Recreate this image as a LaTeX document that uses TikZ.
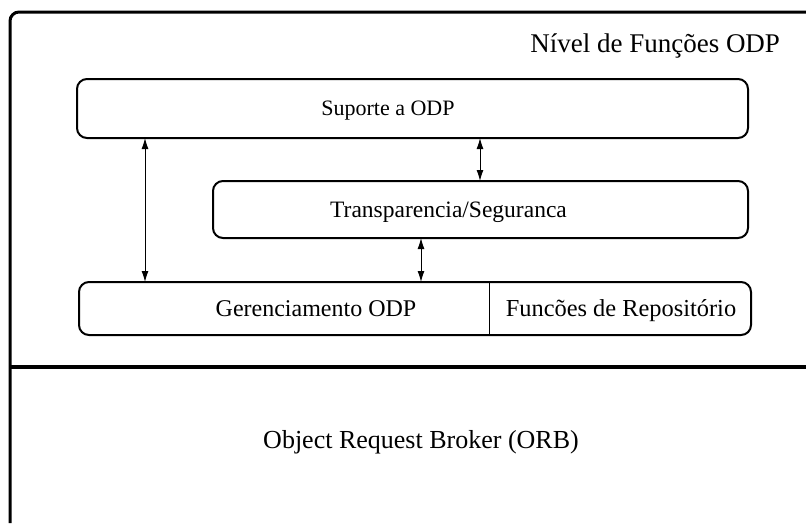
\documentclass[tikz,border=0pt]{standalone}
\usepackage{fontspec}
\setmainfont{Liberation Serif}
\usetikzlibrary{arrows.meta}
\begin{document}
\begin{tikzpicture}[x=1pt,y=-1pt,
  box/.style={draw, line width=2pt, rounded corners=10pt, inner sep=0pt, outer sep=0pt},
  frameline/.style={line width=3pt},
  lbl/.style={inner sep=0pt, outer sep=0pt, anchor=base},
  arr/.style={{Latex[length=11pt,width=7pt]}-{Latex[length=11pt,width=7pt]}, line width=1pt},
  divider/.style={line width=0.8pt}
]
\useasboundingbox (0,0) rectangle (806,523);
% outer frame
\coordinate (ftr) at (806,12);
\coordinate (ftl) at (10,12);
\coordinate (fbl) at (10,523);
\coordinate (sepl) at (10,367);
\coordinate (sepr) at (806,367);
\draw[frameline, rounded corners=9pt] (ftr) -- (ftl) -- (fbl);
\draw[line width=3.5pt] (sepl) -- (sepr);
% title
\node[lbl, anchor=base east, font=\fontsize{27pt}{30pt}\selectfont] (title) at (780,52) {Nível de Funções ODP};
% boxes
\node[box, minimum width=671pt, minimum height=59pt] (sup) at (412.5,108.5) {};
\node[box, minimum width=535pt, minimum height=57pt] (tra) at (480.5,209.5) {};
\node[box, minimum width=672pt, minimum height=53pt] (ger) at (415,308.5) {};
\coordinate (dv) at (489,0);
\draw[divider] (ger.north -| dv) -- (ger.south -| dv);
% labels
\node[lbl, font=\fontsize{22pt}{26pt}\selectfont] (tsup) at (388,115) {Suporte a ODP};
\node[lbl, font=\fontsize{23.5pt}{27pt}\selectfont] (ttra) at (448.5,217) {Transparencia/Seguranca};
\node[lbl, font=\fontsize{24pt}{27pt}\selectfont] (tger) at (316,316) {Gerenciamento ODP};
\node[lbl, font=\fontsize{24.4pt}{27pt}\selectfont] (trep) at (621,316) {Funcões de Repositório};
\node[lbl, font=\fontsize{26pt}{29pt}\selectfont] (torb) at (421,448) {Object Request Broker (ORB)};
% arrows
\coordinate (a1) at (145,0);
\coordinate (a2) at (480,0);
\coordinate (a3) at (421,0);
\draw[arr] (sup.south -| a1) -- (ger.north -| a1);
\draw[arr] (sup.south -| a2) -- (tra.north -| a2);
\draw[arr] (tra.south -| a3) -- (ger.north -| a3);
\end{tikzpicture}
\end{document}
